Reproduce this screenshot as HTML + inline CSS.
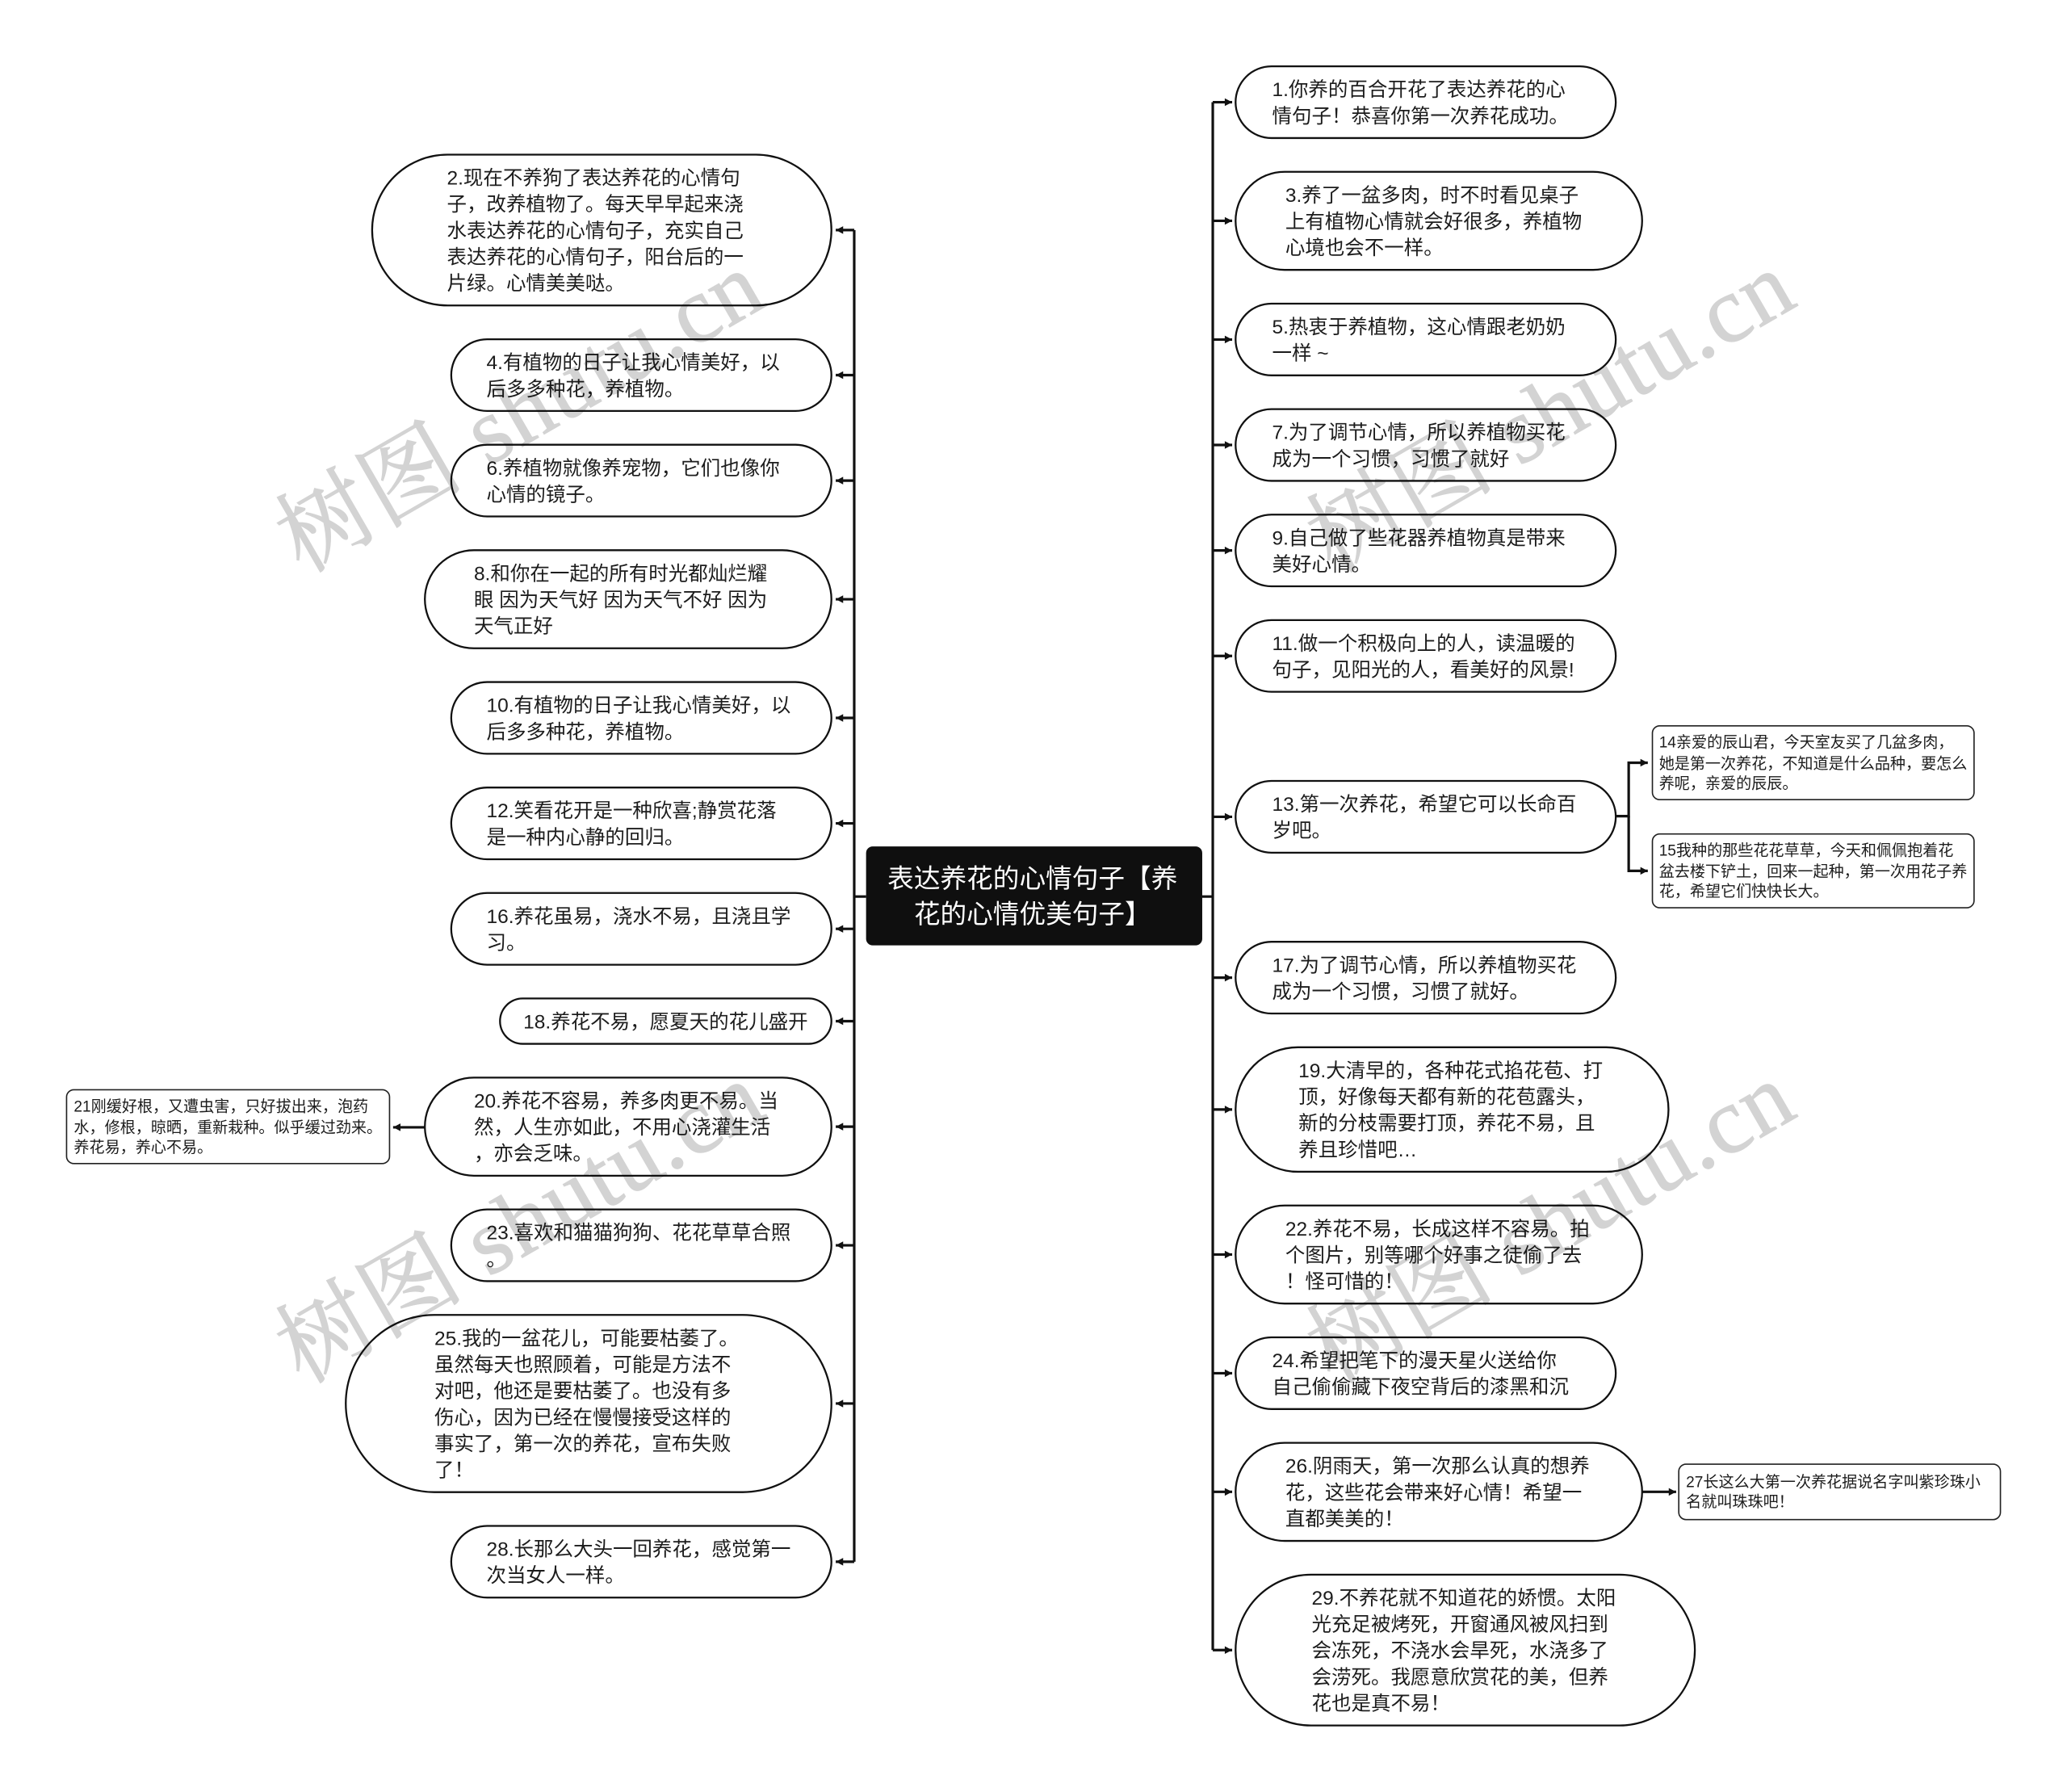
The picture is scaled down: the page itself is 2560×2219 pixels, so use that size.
<!DOCTYPE html>
<html lang="zh"><head><meta charset="utf-8"><title>表达养花的心情句子</title>
<style>
html,body{margin:0;padding:0;background:#fff;width:2560px;height:2219px;overflow:hidden}
#c{position:absolute;left:0;top:0;width:1568px;height:1359px;transform:scale(1.63265);transform-origin:0 0;font-family:"Liberation Sans","Noto Sans CJK SC",sans-serif;color:#1c1c1c}
#c svg.l{position:absolute;left:0;top:0}
.n{position:absolute;box-sizing:border-box;background:#fff;border:1.6px solid #111;box-shadow:0 0 0 .4px #111;border-radius:200px;font-size:15px;line-height:20px;display:flex;align-items:center;white-space:nowrap}
.n div{position:relative;top:1.5px;left:0}
.s{position:absolute;box-sizing:border-box;background:#fff;border:1.25px solid #222;border-radius:6px;font-size:11.7px;line-height:15.2px;display:flex;align-items:center;white-space:nowrap;padding-left:5px}
.s div{position:relative;top:.7px}
.m{position:absolute;left:656.5px;top:642px;width:255.5px;height:75px;background:#0f0f0f;border-radius:5px;color:#fff;font-size:20px;line-height:27px;text-align:center;display:flex;align-items:center;justify-content:center;white-space:nowrap}
.m div{position:relative;top:1.4px;left:-1px}
.w{position:absolute;width:600px;height:100px;line-height:100px;margin:-50px 0 0 -300px;text-align:center;font-family:"Liberation Serif","Noto Serif CJK SC",serif;font-size:71px;color:#d3d3d3;-webkit-text-stroke:.7px #d3d3d3;transform:rotate(-30deg);white-space:nowrap;mix-blend-mode:multiply;letter-spacing:1px}
</style></head><body>
<div id="c">
<svg class="l" width="1568" height="1359" viewBox="0 0 1568 1359" fill="none">
<defs>
<marker id="r" markerUnits="userSpaceOnUse" markerWidth="8" markerHeight="8" refX="6" refY="4" orient="auto"><path d="M0.4 1.1L6 4L0.4 6.9Z" fill="#111"/></marker>
</defs>
<g stroke="#111" stroke-width="1.95">
<path d="M648 174.5V1184.5M920 77.5V1251.5M648 680H657M912 680H920"/>
<g>
<path marker-end="url(#r)" d="M920 77.5H934.7"/><path marker-end="url(#r)" d="M920 167.5H934.7"/><path marker-end="url(#r)" d="M920 257.5H934.7"/><path marker-end="url(#r)" d="M920 337.5H934.7"/><path marker-end="url(#r)" d="M920 417.5H934.7"/><path marker-end="url(#r)" d="M920 497.5H934.7"/><path marker-end="url(#r)" d="M920 619.5H934.7"/><path marker-end="url(#r)" d="M920 741.5H934.7"/><path marker-end="url(#r)" d="M920 841.5H934.7"/><path marker-end="url(#r)" d="M920 951.5H934.7"/><path marker-end="url(#r)" d="M920 1041.5H934.7"/><path marker-end="url(#r)" d="M920 1131.5H934.7"/><path marker-end="url(#r)" d="M920 1251.5H934.7"/>
<path marker-end="url(#r)" d="M648 174.5H634"/><path marker-end="url(#r)" d="M648 284.5H634"/><path marker-end="url(#r)" d="M648 364.5H634"/><path marker-end="url(#r)" d="M648 454.5H634"/><path marker-end="url(#r)" d="M648 544.5H634"/><path marker-end="url(#r)" d="M648 624.5H634"/><path marker-end="url(#r)" d="M648 704.5H634"/><path marker-end="url(#r)" d="M648 774.5H634"/><path marker-end="url(#r)" d="M648 854.5H634"/><path marker-end="url(#r)" d="M648 944.5H634"/><path marker-end="url(#r)" d="M648 1064.5H634"/><path marker-end="url(#r)" d="M648 1184.5H634"/>
<path marker-end="url(#r)" d="M322 855H298.2"/><path marker-end="url(#r)" d="M1246 1131.5H1271.5"/>
<path marker-end="url(#r)" d="M1226 619H1235.5V578.5H1250"/><path marker-end="url(#r)" d="M1235.5 619V660.5H1250"/>
</g></g>
</svg>

<div class="m"><div>表达养花的心情句子【养<br>花的心情优美句子】</div></div>

<div class="n" style="left:937px;top:50px;width:289px;height:55px;padding-left:27px"><div>1.你养的百合开花了表达养花的心<br>情句子！恭喜你第一次养花成功。</div></div>
<div class="n" style="left:937px;top:130px;width:309px;height:75px;padding-left:37px"><div>3.养了一盆多肉，时不时看见桌子<br>上有植物心情就会好很多，养植物<br>心境也会不一样。</div></div>
<div class="n" style="left:937px;top:230px;width:289px;height:55px;padding-left:27px"><div>5.热衷于养植物，这心情跟老奶奶<br>一样 ~</div></div>
<div class="n" style="left:937px;top:310px;width:289px;height:55px;padding-left:27px"><div>7.为了调节心情，所以养植物买花<br>成为一个习惯，习惯了就好</div></div>
<div class="n" style="left:937px;top:390px;width:289px;height:55px;padding-left:27px"><div>9.自己做了些花器养植物真是带来<br>美好心情。</div></div>
<div class="n" style="left:937px;top:470px;width:289px;height:55px;padding-left:27px"><div>11.做一个积极向上的人，读温暖的<br>句子，见阳光的人，看美好的风景!</div></div>
<div class="n" style="left:937px;top:592px;width:289px;height:55px;padding-left:27px"><div>13.第一次养花，希望它可以长命百<br>岁吧。</div></div>
<div class="n" style="left:937px;top:714px;width:289px;height:55px;padding-left:27px"><div>17.为了调节心情，所以养植物买花<br>成为一个习惯，习惯了就好。</div></div>
<div class="n" style="left:937px;top:794px;width:329px;height:95px;padding-left:47px"><div>19.大清早的，各种花式掐花苞、打<br>顶，好像每天都有新的花苞露头，<br>新的分枝需要打顶，养花不易，且<br>养且珍惜吧…</div></div>
<div class="n" style="left:937px;top:914px;width:309px;height:75px;padding-left:37px"><div>22.养花不易，长成这样不容易。拍<br>个图片，别等哪个好事之徒偷了去<br>！怪可惜的！</div></div>
<div class="n" style="left:937px;top:1014px;width:289px;height:55px;padding-left:27px"><div>24.希望把笔下的漫天星火送给你<br>自己偷偷藏下夜空背后的漆黑和沉</div></div>
<div class="n" style="left:937px;top:1094px;width:309px;height:75px;padding-left:37px"><div>26.阴雨天，第一次那么认真的想养<br>花，这些花会带来好心情！希望一<br>直都美美的！</div></div>
<div class="n" style="left:937px;top:1194px;width:349px;height:115px;padding-left:57px"><div>29.不养花就不知道花的娇惯。太阳<br>光充足被烤死，开窗通风被风扫到<br>会冻死，不浇水会旱死，水浇多了<br>会涝死。我愿意欣赏花的美，但养<br>花也是真不易！</div></div>

<div class="n" style="left:282px;top:117px;width:349px;height:115px;padding-left:56px"><div>2.现在不养狗了表达养花的心情句<br>子，改养植物了。每天早早起来浇<br>水表达养花的心情句子，充实自己<br>表达养花的心情句子，阳台后的一<br>片绿。心情美美哒。</div></div>
<div class="n" style="left:342px;top:257px;width:289px;height:55px;padding-left:26px"><div>4.有植物的日子让我心情美好，以<br>后多多种花，养植物。</div></div>
<div class="n" style="left:342px;top:337px;width:289px;height:55px;padding-left:26px"><div>6.养植物就像养宠物，它们也像你<br>心情的镜子。</div></div>
<div class="n" style="left:322px;top:417px;width:309px;height:75px;padding-left:36.5px"><div>8.和你在一起的所有时光都灿烂耀<br>眼 因为天气好 因为天气不好 因为<br>天气正好</div></div>
<div class="n" style="left:342px;top:517px;width:289px;height:55px;padding-left:26px"><div>10.有植物的日子让我心情美好，以<br>后多多种花，养植物。</div></div>
<div class="n" style="left:342px;top:597px;width:289px;height:55px;padding-left:26px"><div>12.笑看花开是一种欣喜;静赏花落<br>是一种内心静的回归。</div></div>
<div class="n" style="left:342px;top:677px;width:289px;height:55px;padding-left:26px"><div>16.养花虽易，浇水不易，且浇且学<br>习。</div></div>
<div class="n" style="left:379px;top:757px;width:252px;height:35px;padding-left:17px"><div>18.养花不易，愿夏天的花儿盛开</div></div>
<div class="n" style="left:322px;top:817px;width:309px;height:75px;padding-left:36.5px"><div>20.养花不容易，养多肉更不易。当<br>然，人生亦如此，不用心浇灌生活<br>，亦会乏味。</div></div>
<div class="n" style="left:342px;top:917px;width:289px;height:55px;padding-left:26px"><div>23.喜欢和猫猫狗狗、花花草草合照<br>。</div></div>
<div class="n" style="left:262px;top:997px;width:369px;height:135px;padding-left:66.5px"><div>25.我的一盆花儿，可能要枯萎了。<br>虽然每天也照顾着，可能是方法不<br>对吧，他还是要枯萎了。也没有多<br>伤心，因为已经在慢慢接受这样的<br>事实了，第一次的养花，宣布失败<br>了！</div></div>
<div class="n" style="left:342px;top:1157px;width:289px;height:55px;padding-left:26px"><div>28.长那么大头一回养花，感觉第一<br>次当女人一样。</div></div>

<div class="s" style="left:1252.5px;top:550px;width:245.5px;height:57px"><div>14亲爱的辰山君，今天室友买了几盆多肉，<br>她是第一次养花，不知道是什么品种，要怎么<br>养呢，亲爱的辰辰。</div></div>
<div class="s" style="left:1252.5px;top:632px;width:245.5px;height:57px"><div>15我种的那些花花草草，今天和佩佩抱着花<br>盆去楼下铲土，回来一起种，第一次用花子养<br>花，希望它们快快长大。</div></div>
<div class="s" style="left:50px;top:826px;width:245.5px;height:57px"><div>21刚缓好根，又遭虫害，只好拔出来，泡药<br>水，修根，晾晒，重新栽种。似乎缓过劲来。<br>养花易，养心不易。</div></div>
<div class="s" style="left:1273px;top:1110px;width:245px;height:43px"><div>27长这么大第一次养花据说名字叫紫珍珠小<br>名就叫珠珠吧！</div></div>

<div class="w" style="left:395px;top:313px">树图 shutu.cn</div>
<div class="w" style="left:1177px;top:313px">树图 shutu.cn</div>
<div class="w" style="left:395px;top:928px">树图 shutu.cn</div>
<div class="w" style="left:1177px;top:928px">树图 shutu.cn</div>
</div>
</body></html>
